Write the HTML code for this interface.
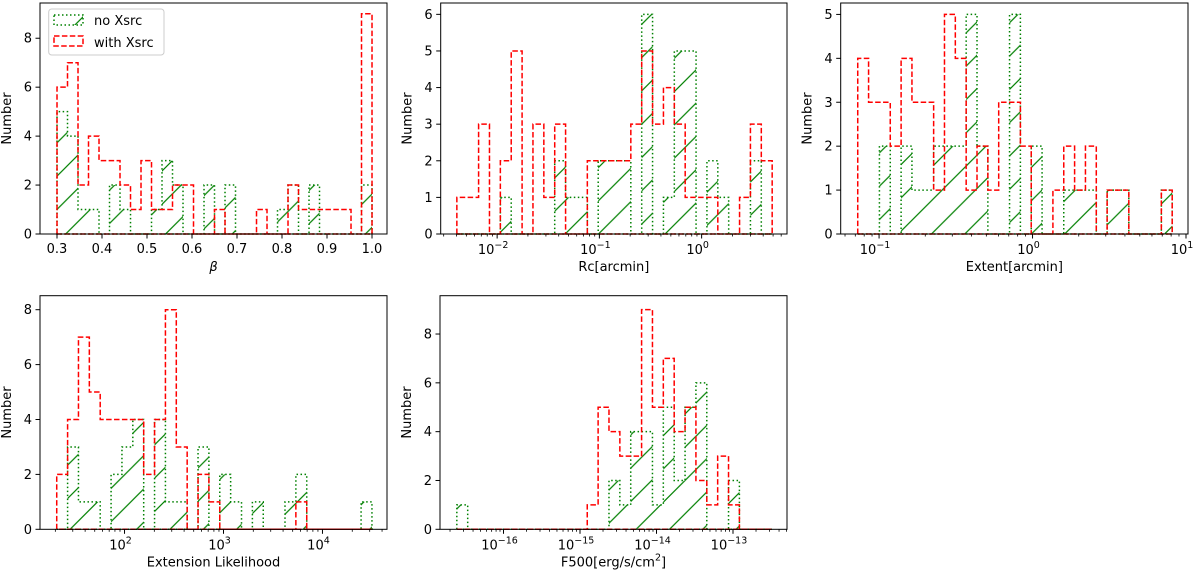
<!DOCTYPE html>
<html><head><meta charset="utf-8"><style>
html,body{margin:0;padding:0;background:#fff;}
svg{display:block;font-family:"DejaVu Sans","Liberation Sans",sans-serif;}
</style></head><body>
<svg id="fig" width="1200" height="580" viewBox="0 0 1200 580" xmlns="http://www.w3.org/2000/svg">
<defs>
<pattern id="hatch" patternUnits="userSpaceOnUse" width="33.3" height="33.3">
<path d="M-1,34.3 L34.3,-1 M-17.65,17.65 L17.65,-17.65 M15.65,50.95 L50.95,15.65" stroke="#008000" stroke-width="1.2"/>
</pattern>
</defs>
</svg>
<script>
// ---- data ----
const betaRange = [0.3, 1.0];
const betaRed   = [6,7,2,4,3,3,2,1,3,1,1,2,2,0,0,1,0,0,0,1,0,0,2,1,1,1,1,1,0,9];
const betaGreen = [5,4,1,1,0,2,1,0,0,1,3,2,0,0,2,0,2,0,0,0,0,1,2,0,2,0,0,0,0,2];

const rcRange = [-2.394, 0.69];   // log10 edges
const rcRed   = [1,1,3,0,2,5,0,3,1,3,0,0,2,2,2,2,3,5,3,4,3,1,1,1,0,0,1,3,2];
const rcGreen = [0,0,0,0,1,0,0,0,0,2,1,1,0,2,2,2,0,6,0,1,5,5,0,2,1,0,0,2,0];

const extRange = [-1.139, 0.91];
const extRed   = [4,3,3,2,4,3,3,1,5,4,1,2,1,3,3,2,0,0,1,2,1,2,0,1,1,0,0,0,1];
const extGreen = [0,0,2,0,2,1,1,2,2,2,5,2,0,0,5,0,2,0,0,1,1,1,0,1,1,0,0,0,1];

const elRange = [1.315, 4.50];
const elRed   = [2,4,7,5,4,4,4,4,2,4,8,3,0,2,1,0,0,0,0,0,0,0,1,0,0,0,0,0,0];
const elGreen = [0,3,1,1,0,2,3,4,0,4,1,1,0,3,0,2,1,0,1,0,0,1,2,0,0,0,0,0,1];

const fRange = [-16.61, -12.49];
const fRed   = [0,0,0,0,0,0,0,0,0,0,0,0,1,5,4,3,3,9,5,7,4,5,2,1,3,1,0,0,0];
const fGreen = [1,0,0,0,0,0,0,0,0,0,0,0,0,0,2,1,4,4,1,5,2,5,6,0,0,2,0,0,0];

const yTicks1 = [0,2,4,6,8];
const yTicks2 = [0,1,2,3,4,5,6];
const yTicks3 = [0,1,2,3,4,5];
const betaTicks = [0.3,0.4,0.5,0.6,0.7,0.8,0.9,1.0];
const betaTickLabels = ["0.3","0.4","0.5","0.6","0.7","0.8","0.9","1.0"];
const rcDecades = [-2,-1,0];
const extDecades = [-1,0,1];
const elDecades = [2,3,4];
const fDecades = [-16,-15,-14,-13];

// ---- drawing ----
const NS = "http://www.w3.org/2000/svg";
const svg = document.getElementById("fig");
function mk(tag, attrs, parent){
  const e = document.createElementNS(NS, tag);
  for (const k in attrs) e.setAttribute(k, attrs[k]);
  (parent||svg).appendChild(e);
  return e;
}
let clipId = 0;
function panel(cfg){
  const g = mk("g", {});
  
  
  const [L,T,R,B] = cfg.box;
  const X = v => L + (v - cfg.xd[0]) / (cfg.xd[1]-cfg.xd[0]) * (R-L);
  const Y = v => B - v / cfg.ymax * (B-T);
  function stepPath(counts){
    const n = counts.length, w = (cfg.range[1]-cfg.range[0])/n;
    let d = "M" + X(cfg.range[0]) + "," + Y(0);
    for (let i=0;i<n;i++){
      const x0 = X(cfg.range[0]+i*w), x1 = X(cfg.range[0]+(i+1)*w);
      d += " L" + x0 + "," + Y(counts[i]) + " L" + x1 + "," + Y(counts[i]);
    }
    d += " L" + X(cfg.range[1]) + "," + Y(0) + " Z";
    return d;
  }
  // green hatched
  clipId++;
  const cp = mk("clipPath", {id:"cp"+clipId}, g);
  mk("path", {d: stepPath(cfg.green)}, cp);
  const hatch = mk("rect", {x:L, y:T, width:R-L, height:B-T, fill:"url(#hatch)", "clip-path":"url(#cp"+clipId+")"}, g);
  
  
  const gp = mk("path", {d: stepPath(cfg.green), fill:"none", stroke:"#008000", "stroke-width":1.5, "stroke-dasharray":"1.5,2.5"}, g);
  
  
  const rp = mk("path", {d: stepPath(cfg.red), fill:"none", stroke:"#ff0000", "stroke-width":1.5, "stroke-dasharray":"5.5,2.4"}, g);
  
  
  // frame
  const fr = mk("rect", {x:L, y:T, width:R-L, height:B-T, fill:"none", stroke:"#000", "stroke-width":1}, g);
  
  
  // y ticks
  cfg.yticks.forEach(v=>{
    const y = Y(v);
    mk("line",{x1:L-4.5,x2:L,y1:y,y2:y,stroke:"#000","stroke-width":1},g);
    const t = mk("text",{x:L-8,y:y+4.5,"font-size":13,"text-anchor":"end"},g);
    t.textContent = v;
    
    
  });
  // x ticks
  if (cfg.linTicks){
    cfg.linTicks.forEach((v,i)=>{
      const x = X(v);
      mk("line",{x1:x,x2:x,y1:B,y2:B+4.5,stroke:"#000","stroke-width":1},g);
      const t = mk("text",{x:x,y:B+19,"font-size":13,"text-anchor":"middle"},g);
      t.textContent = cfg.linLabels[i];
      
      
    });
  } else {
    for (let d=Math.floor(cfg.xd[0]); d<=Math.ceil(cfg.xd[1]); d++){
      for (let m=2;m<=9;m++){
        const lv = d + Math.log10(m);
        if (lv>cfg.xd[0] && lv<cfg.xd[1]){
          const x = X(lv);
          mk("line",{x1:x,x2:x,y1:B,y2:B+2.5,stroke:"#000","stroke-width":0.8},g);
        }
      }
    }
    cfg.decades.forEach(d=>{
      const x = X(d);
      mk("line",{x1:x,x2:x,y1:B,y2:B+4.5,stroke:"#000","stroke-width":1},g);
      const t = mk("text",{x:x-4,y:B+20,"font-size":13,"text-anchor":"middle"},g);
      t.textContent = "10";
      const s = mk("tspan",{dy:-6,"font-size":9.5},t);
      s.textContent = (d<0? "\u2212"+(-d) : ""+d);
      
      
    });
  }
  // labels
  const yl = mk("text",{x:0,y:0,"font-size":13,"text-anchor":"middle",transform:"translate("+(L-29)+","+((T+B)/2)+") rotate(-90)"},g);
  yl.textContent = "Number";
  
  
  const xl = mk("text",{x:(L+R)/2,y:B+37,"font-size":13,"text-anchor":"middle","font-style":cfg.xlabelItalic?"italic":"normal"},g);
  xl.innerHTML = cfg.xlabel;
  
  
}

panel({name:"beta-panel", box:[40,3,387,234], xd:[0.2622,1.0333], ymax:9.44, range:betaRange,
  red:betaRed, green:betaGreen, yticks:yTicks1, linTicks:betaTicks, linLabels:betaTickLabels, xlabel:"β", xlabelItalic:true});
panel({name:"rc-panel", box:[440.7,3,787,234], xd:[-2.552,0.835], ymax:6.31, range:rcRange,
  red:rcRed, green:rcGreen, yticks:yTicks2, decades:rcDecades, xlabel:"Rc[arcmin]"});
panel({name:"extent-panel", box:[840.7,3,1188,234], xd:[-1.25,1.013], ymax:5.26, range:extRange,
  red:extRed, green:extGreen, yticks:yTicks3, decades:extDecades, xlabel:"Extent[arcmin]"});
panel({name:"extension-likelihood-panel", box:[40,295.7,387,529.3], xd:[1.146,4.652], ymax:8.51, range:elRange,
  red:elRed, green:elGreen, yticks:yTicks1, decades:elDecades, xlabel:"Extension Likelihood"});
panel({name:"f500-panel", box:[440,295.7,787,529.3], xd:[-16.83,-12.294], ymax:9.57, range:fRange,
  red:fRed, green:fGreen, yticks:yTicks1, decades:fDecades, xlabel:'F500[erg/s/cm<tspan dy="-6" font-size="9.5">2</tspan><tspan dy="6">]</tspan>'});

// legend
const lg = mk("g",{});


mk("rect",{x:48.7,y:9,width:115.3,height:46,rx:3,fill:"#fff","fill-opacity":0.8,stroke:"#ccc","stroke-width":1},lg);
const e1 = mk("g",{},lg);


mk("rect",{x:54,y:15,width:29,height:10,fill:"url(#hatch)"},e1);
mk("rect",{x:54,y:15,width:29,height:10,fill:"none",stroke:"#008000","stroke-width":1.5,"stroke-dasharray":"1.5,2.5"},e1);
const t1 = mk("text",{x:94,y:25,"font-size":13},e1); t1.textContent="no Xsrc";
const e2 = mk("g",{},lg);


mk("rect",{x:54,y:36,width:29,height:10,fill:"none",stroke:"#ff0000","stroke-width":1.5,"stroke-dasharray":"5.5,2.4"},e2);
const t2 = mk("text",{x:94,y:47,"font-size":13},e2); t2.textContent="with Xsrc";
</script>
</body></html>
